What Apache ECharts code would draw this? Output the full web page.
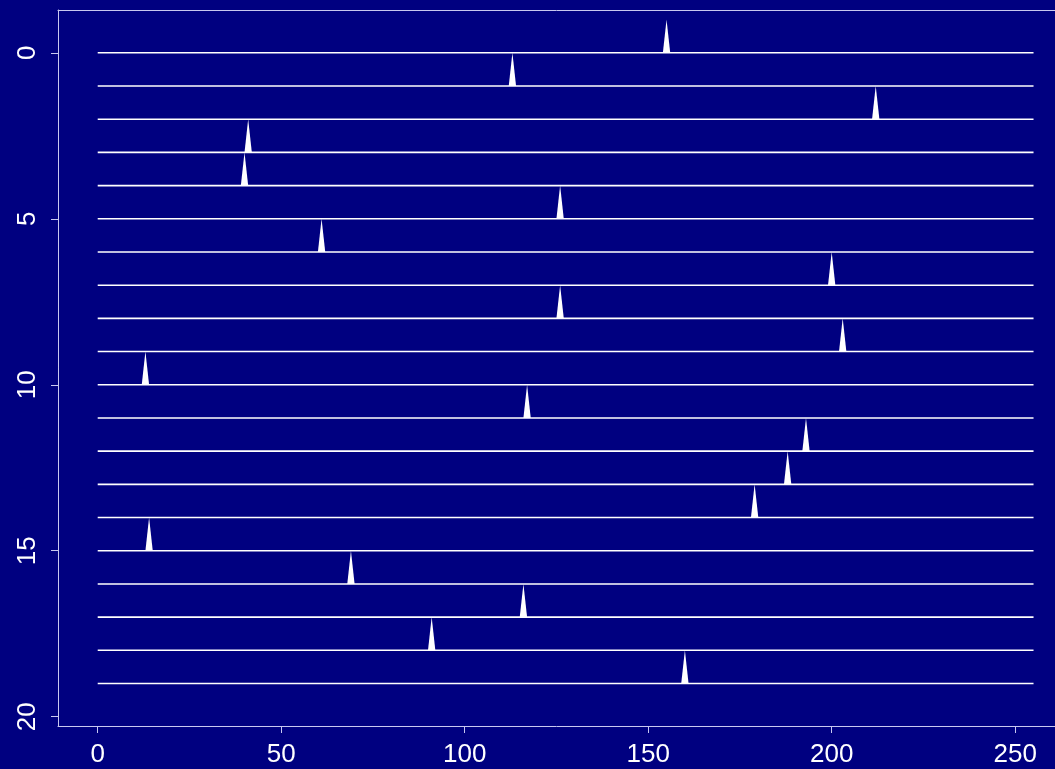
<!DOCTYPE html>
<html>
<head>
<meta charset="utf-8">
<script src="https://cdn.jsdelivr.net/npm/echarts@6/dist/echarts.min.js"></script>
<style>html,body{margin:0;padding:0;background:#000080;}#c{width:1055px;height:769px;}</style>
</head>
<body>
<div id="c"></div>
<script>
// Row index (0 = top) and the position of each row's single peak
const rows = [0,1,2,3,4,5,6,7,8,9,10,11,12,13,14,15,16,17,18,19];
const peaks = [155,113,212,41,40,126,61,200,126,203,13,117,193,188,179,14,69,116,91,160];
const peakHeight = [1,1,1,1,1,1,1,1,1,1,1,1,1,1,1,1,1,1,1,1];
const xStart = 0, xEnd = 255;
const xTicks = [0,50,100,150,200,250];
const yTicks = [0,5,10,15,20];

const data = rows.map((r, i) => [r, peaks[i], peakHeight[i]]);
const axisCol = '#c8c8f0';
const chart = echarts.init(document.getElementById('c'));
chart.setOption({
  backgroundColor: '#000080',
  animation: false,
  grid: { left: 58, top: 10, bottom: 43, right: 0, show: false },
  xAxis: [{
    type: 'value', min: -10.82, max: 260.85,
    splitLine: { show: false },
    axisLine: { show: true, onZero: false, lineStyle: { color: axisCol } },
    axisTick: { show: true, length: 7, customValues: xTicks, lineStyle: { color: axisCol } },
    axisLabel: { customValues: xTicks, color: '#ffffff', fontSize: 26, fontFamily: 'Liberation Sans', margin: 16 }
  }, {
    type: 'value', position: 'top', min: -10.82, max: 260.85,
    splitLine: { show: false },
    axisLine: { show: true, onZero: false, lineStyle: { color: axisCol } },
    axisTick: { show: false }, axisLabel: { show: false }
  }],
  yAxis: {
    type: 'value', inverse: true, min: -1.29, max: 20.28,
    splitLine: { show: false },
    axisLine: { show: true, onZero: false, lineStyle: { color: axisCol } },
    axisTick: { show: true, length: 7, customValues: yTicks, lineStyle: { color: axisCol } },
    axisLabel: { customValues: yTicks, color: '#ffffff', fontSize: 26, fontFamily: 'Liberation Sans', rotate: 90, margin: 17 }
  },
  series: [{
    type: 'custom',
    clip: false,
    data: data,
    renderItem: function (params, api) {
      const y = api.value(0), p = api.value(1), h = api.value(2);
      const a = api.coord([xStart, y]), b = api.coord([xEnd, y]);
      const l = api.coord([p - 1, y]), t = api.coord([p, y - h]), r = api.coord([p + 1, y]);
      return {
        type: 'group',
        children: [
          { type: 'polygon', shape: { points: [l, t, r] }, style: { fill: '#ffffff', stroke: null } },
          { type: 'line', shape: { x1: a[0], y1: a[1], x2: b[0], y2: b[1] }, style: { stroke: '#ffffff', lineWidth: 1.6 } }
        ]
      };
    }
  }]
});
</script>
</body>
</html>
